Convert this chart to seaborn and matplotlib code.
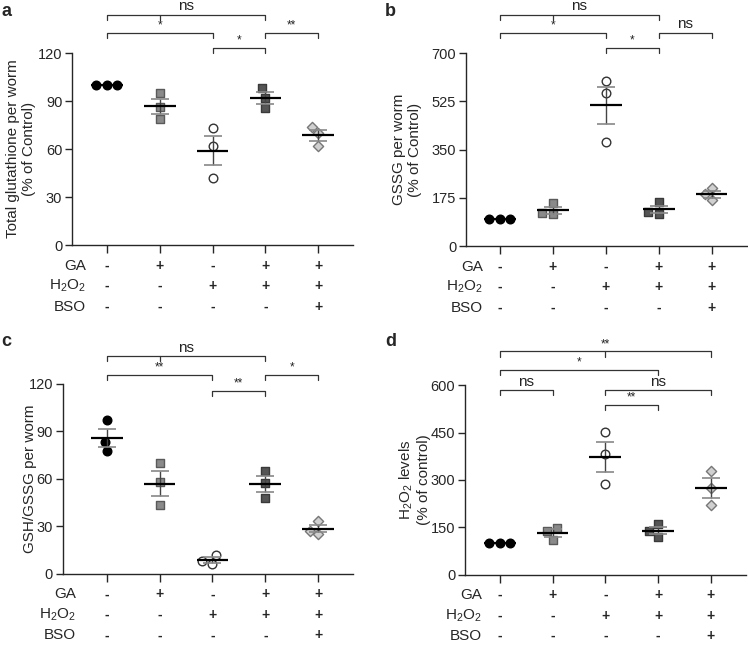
import matplotlib
matplotlib.use("Agg")
import matplotlib.pyplot as plt
import matplotlib.transforms as mtransforms
import numpy as np
import pandas as pd
import seaborn as sns

# Datos de los cuatro paneles
groups = ["Control", "GA", "H2O2", "GA+H2O2", "GA+H2O2+BSO"]

total_gsh = [[100, 100, 100], [95, 86, 79], [73, 62, 42], [98, 92, 85.5], [74, 70, 62]]
gssg = [[100, 100, 100], [155, 120, 115], [600, 555, 379], [160, 122, 118], [210, 188, 166]]
gsh_gssg = [[97, 83.6, 77.4], [70, 57.9, 43.3], [12, 6, 8], [64.8, 57.5, 48.1], [33.4, 25.5, 27.2]]
h2o2 = [[100, 100, 100], [149, 138, 110], [451, 381, 287], [160, 139, 120], [327, 274, 219]]

row_names = ["GA", "H$_2$O$_2$", "BSO"]
row_signs = [["-", "+", "-", "+", "+"],
             ["-", "-", "+", "+", "+"],
             ["-", "-", "-", "-", "+"]]

# Corchetes de significancia: (x1, x2, ticks intermedios, altura, texto)
brackets_a = [(0, 3, [1], 1.198, "ns"), (0, 2, [], 1.104, "*"), (3, 4, [], 1.104, "**"), (2, 3, [], 1.026, "*")]
brackets_b = [(0, 3, [1], 1.198, "ns"), (0, 2, [], 1.104, "*"), (3, 4, [], 1.104, "ns"), (2, 3, [], 1.026, "*")]
brackets_c = [(0, 3, [1], 1.147, "ns"), (0, 2, [], 1.047, "**"), (3, 4, [], 1.047, "*"), (2, 3, [], 0.963, "**")]
brackets_d = [(0, 4, [2], 1.178, "**"), (0, 3, [], 1.079, "*"), (0, 1, [], 0.974, "ns"),
              (2, 4, [], 0.974, "ns"), (2, 3, [], 0.895, "**")]

markers = ["o", "s", "o", "s", "D"]
fills = ["black", "#8a8a8a", "white", "#555555", "#d0d0d0"]
edges = ["black", "#5a5a5a", "#333333", "#3a3a3a", "#777777"]
sizes = [6.2, 6.3, 6.2, 6.3, 5.2]

sns.set_style("ticks")
plt.rcParams["font.family"] = ["Liberation Sans", "DejaVu Sans"]
plt.rcParams["mathtext.default"] = "regular"

fig = plt.figure(figsize=(7.48, 6.46), dpi=100)


def panel(rect, values, yticks, ylabel, label_x, brackets, row_x, xlim_left, letter, letter_pos):
    ax = fig.add_axes(rect)
    df = pd.DataFrame({"grupo": np.repeat(groups, 3), "valor": np.concatenate(values)})
    for i, g in enumerate(groups):
        sns.swarmplot(data=df[df["grupo"] == g], x="grupo", y="valor", order=groups, ax=ax,
                      marker=markers[i], color=fills[i], edgecolor=edges[i], linewidth=1,
                      size=sizes[i], zorder=2)
    for i, v in enumerate(values):
        m = np.mean(v)
        sem = np.std(v, ddof=1) / np.sqrt(len(v))
        if sem > 0:
            ax.vlines(i, m - sem, m + sem, color="#444444", lw=1, zorder=4)
            ax.hlines([m - sem, m + sem], i - 0.17, i + 0.17, color="#888888", lw=1.2, zorder=4)
        ax.hlines(m, i - 0.3, i + 0.3, color="black", lw=1.6, zorder=5)

    ax.set_xlim(xlim_left, 4.66)
    ax.set_ylim(yticks[0], yticks[-1])
    ax.set_yticks(yticks)
    ax.set_xticks(range(5))
    ax.set_xticklabels([])
    ax.set_xlabel("")
    ax.set_ylabel(ylabel, fontsize=11, linespacing=1.15)
    ax.yaxis.set_label_coords(label_x, 0.5)
    ax.tick_params(axis="y", labelsize=10.5, length=5, width=1, pad=2)
    ax.tick_params(axis="x", length=6, width=1)
    sns.despine(ax=ax)
    for s in ["left", "bottom"]:
        ax.spines[s].set_linewidth(1)

    # Filas de tratamientos
    for r, (name, signs) in enumerate(zip(row_names, row_signs)):
        dy = -20.5 * (r + 1)
        ax.annotate(name, xy=(row_x, 0), xycoords=("data", "axes fraction"), xytext=(0, dy),
                    textcoords="offset pixels", ha="right", va="center", fontsize=11,
                    annotation_clip=False)
        for i, s in enumerate(signs):
            ax.annotate(s, xy=(i, 0), xycoords=("data", "axes fraction"), xytext=(0, dy),
                        textcoords="offset pixels", ha="center", va="center", fontsize=10,
                        fontweight="bold", annotation_clip=False)

    # Corchetes
    trans = mtransforms.blended_transform_factory(ax.transData, ax.transAxes)
    h = 0.027
    for x1, x2, mids, y, txt in brackets:
        ax.plot([x1, x1, x2, x2], [y - h, y, y, y - h], color="#333333", lw=0.9,
                transform=trans, clip_on=False)
        for xm in mids:
            ax.plot([xm, xm], [y - h, y], color="#333333", lw=0.9, transform=trans, clip_on=False)
        fs = 11 if txt == "ns" else 8.5
        ax.text((x1 + x2) / 2, y + 0.008, txt, transform=trans, ha="center", va="bottom",
                fontsize=fs, color="#222222")

    fig.text(letter_pos[0], letter_pos[1], letter, fontsize=13, fontweight="bold", va="top")
    return ax


panel([0.0963, 0.6207, 0.3757, 0.2972], total_gsh, [0, 30, 60, 90, 120],
      "Total glutathione per worm\n(% of Control)", -0.128, brackets_a, -0.4, -0.66, "a", (0.002, 0.995))
panel([0.623, 0.619, 0.375, 0.2988], gssg, [0, 175, 350, 525, 700],
      "GSSG per worm\n(% of Control)", -0.157, brackets_b, -0.32, -0.64, "b", (0.515, 0.995))
panel([0.084, 0.1115, 0.388, 0.2941], gsh_gssg, [0, 30, 60, 90, 120],
      "GSH/GSSG per worm", -0.09, brackets_c, -0.58, -0.83, "c", (0.002, 0.485))
panel([0.6217, 0.1105, 0.375, 0.2932], h2o2, [0, 150, 300, 450, 600],
      "H$_2$O$_2$ levels\n(% of control)", -0.121, brackets_d, -0.34, -0.66, "d", (0.515, 0.485))

fig.savefig("out.png", dpi=100)
